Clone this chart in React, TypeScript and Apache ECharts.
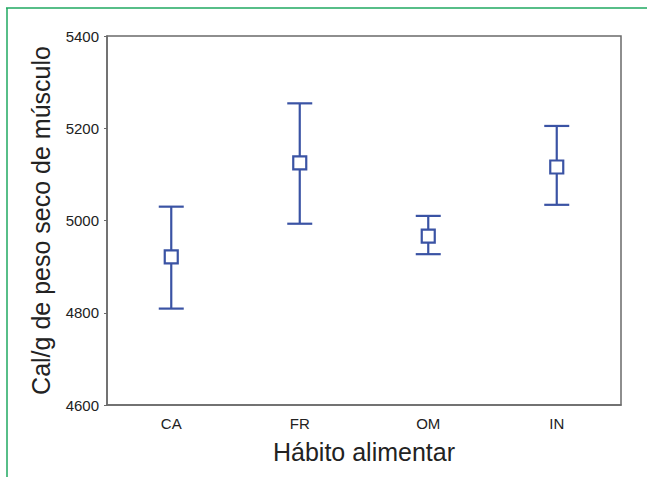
import React, { useEffect, useRef } from "react";
import * as echarts from "echarts";

const categories = ["CA", "FR", "OM", "IN"];
const meanValues = [4921, 5125, 4966, 5116];
const lowerValues = [4809, 4993, 4927, 5034];
const upperValues = [5030, 5254, 5010, 5205];
const yTicks = { min: 4600, max: 5400, interval: 200 };

const BLUE = "#3a53a4";

export default function App() {
  const ref = useRef<HTMLDivElement>(null);
  useEffect(() => {
    if (!ref.current) return;
    const chart = echarts.init(ref.current, undefined, { renderer: "svg" });
    const data = categories.map((c, i) => [i, lowerValues[i], upperValues[i], meanValues[i]]);
    chart.setOption({
      animation: false,
      backgroundColor: "#ffffff",
      textStyle: { fontFamily: "Liberation Sans, Arial, sans-serif" },
      grid: { left: 107, right: 26, top: 36, bottom: 72, show: true, borderColor: "#6a6a6a", borderWidth: 1.5 },
      xAxis: {
        type: "category",
        data: categories,
        name: "Hábito alimentar",
        nameLocation: "middle",
        nameGap: 34,
        nameTextStyle: { fontSize: 25, color: "#222", fontFamily: "Liberation Sans" },
        axisLine: { lineStyle: { color: "#6a6a6a", width: 1.5 } },
        axisTick: { alignWithLabel: true, length: 4, lineStyle: { color: "#6a6a6a" } },
        axisLabel: { fontSize: 15, color: "#222", margin: 11, fontFamily: "Liberation Sans" },
      },
      yAxis: {
        type: "value",
        min: yTicks.min,
        max: yTicks.max,
        interval: yTicks.interval,
        name: "Cal/g de peso seco de músculo",
        nameLocation: "middle",
        nameGap: 54,
        nameTextStyle: { fontSize: 25, color: "#222", fontFamily: "Liberation Sans" },
        axisLine: { show: true, lineStyle: { color: "#6a6a6a", width: 1.5 } },
        axisTick: { show: true, length: 3, lineStyle: { color: "#6a6a6a" } },
        splitLine: { show: false },
        axisLabel: { fontSize: 15, color: "#222", margin: 8, fontFamily: "Liberation Sans", formatter: (v: number) => String(v) },
      },
      series: [
        {
          type: "custom",
          data,
          renderItem: (params: any, api: any) => {
            const x = api.value(0);
            const lo = api.coord([x, api.value(1)]);
            const hi = api.coord([x, api.value(2)]);
            const m = api.coord([x, api.value(3)]);
            const cap = 12.5;
            const box = 13;
            const style = { stroke: BLUE, lineWidth: 2.2, fill: "none" };
            return {
              type: "group",
              children: [
                { type: "line", shape: { x1: hi[0], y1: hi[1], x2: m[0], y2: m[1] - box / 2 }, style },
                { type: "line", shape: { x1: m[0], y1: m[1] + box / 2, x2: lo[0], y2: lo[1] }, style },
                { type: "line", shape: { x1: hi[0] - cap, y1: hi[1], x2: hi[0] + cap, y2: hi[1] }, style },
                { type: "line", shape: { x1: lo[0] - cap, y1: lo[1], x2: lo[0] + cap, y2: lo[1] }, style },
                { type: "rect", shape: { x: m[0] - box / 2, y: m[1] - box / 2, width: box, height: box }, style: { stroke: BLUE, lineWidth: 2.2, fill: "#fff" } },
              ],
            };
          },
        },
      ],
      graphic: [
        { type: "line", shape: { x1: 6, y1: 8, x2: 647, y2: 8 }, style: { stroke: "#1fa860", lineWidth: 1.5 } },
        { type: "line", shape: { x1: 7, y1: 8, x2: 7, y2: 477 }, style: { stroke: "#1fa860", lineWidth: 1.5 } },
      ],
    });
    return () => chart.dispose();
  }, []);
  return <div ref={ref} style={{ width: 647, height: 477, position: "absolute", left: 0, top: 0 }} />;
}
